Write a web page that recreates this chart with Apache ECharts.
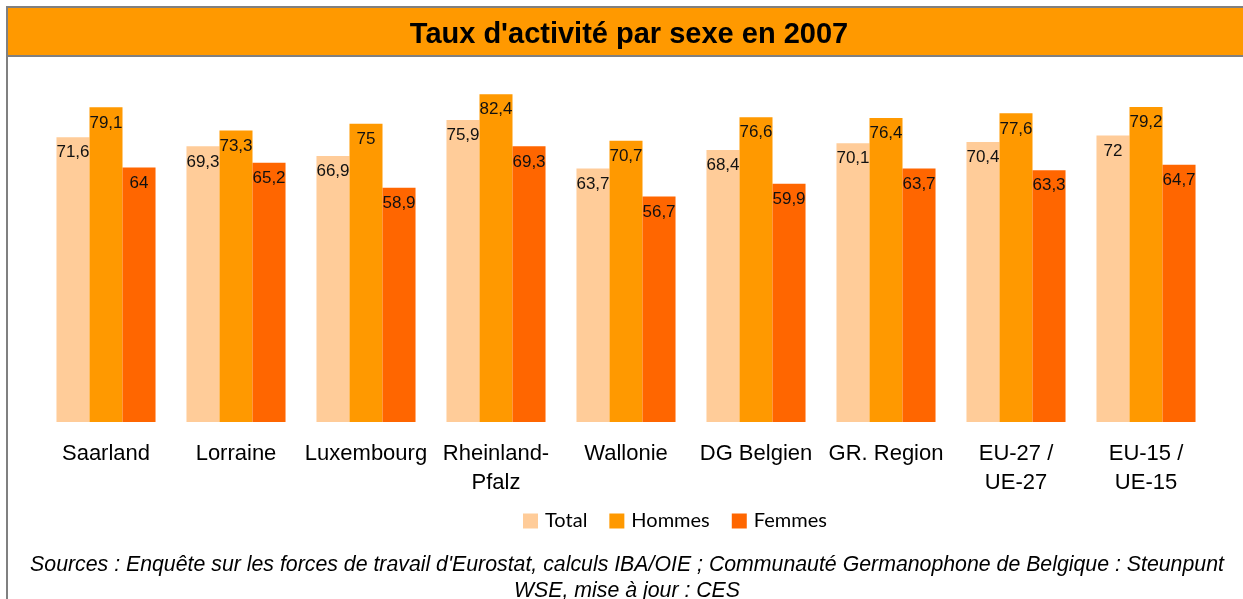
<!DOCTYPE html>
<html>
<head>
<meta charset="utf-8">
<script src="https://cdn.jsdelivr.net/npm/echarts@6/dist/echarts.min.js"></script>
<style>
  html, body { margin: 0; padding: 0; background: #fff; }
  #chart { width: 1243px; height: 599px; }
</style>
</head>
<body>
<div id="chart"></div>
<script>
// données
const regions = ['Saarland', 'Lorraine', 'Luxembourg', 'Rheinland-\nPfalz', 'Wallonie', 'DG Belgien', 'GR. Region', 'EU-27 /\nUE-27', 'EU-15 /\nUE-15']
const total = [71.6, 69.3, 66.9, 75.9, 63.7, 68.4, 70.1, 70.4, 72]
const hommes = [79.1, 73.3, 75, 82.4, 70.7, 76.6, 76.4, 77.6, 79.2]
const femmes = [64, 65.2, 58.9, 69.3, 56.7, 59.9, 63.7, 63.3, 64.7]
const seriesNames = ['Total', 'Hommes', 'Femmes']
const colors = ['#FFCC99', '#FF9900', '#FF6600']

const chart = echarts.init(document.getElementById('chart'))

// étiquette au format français
const labelFmt = (p) => String(p.value).replace('.', ',')

const makeSeries = (name, data, color) => ({
  name: name,
  type: 'bar',
  data: data,
  barGap: '0%',
  barCategoryGap: '23.8%',
  itemStyle: { color: color },
  label: {
    show: true,
    position: 'insideTop',
    distance: 7,
    formatter: labelFmt,
    color: '#111',
    fontFamily: 'Liberation Sans, Arial, sans-serif',
    fontSize: 17
  }
})

chart.setOption({
  animation: false,
  graphic: [
    { type: 'rect', shape: { x: 7, y: 7, width: 1250, height: 48 }, style: { fill: '#FF9900' } },
    { type: 'line', shape: { x1: 7, y1: 7, x2: 1243, y2: 7 }, style: { stroke: '#808080', lineWidth: 2 } },
    { type: 'line', shape: { x1: 7, y1: 56, x2: 1243, y2: 56 }, style: { stroke: '#808080', lineWidth: 2 } },
    { type: 'line', shape: { x1: 7, y1: 6, x2: 7, y2: 599 }, style: { stroke: '#808080', lineWidth: 2 } }
  ],
  title: [
    {
      text: "Taux d'activité par sexe en 2007",
      left: 624,
      top: 15,
      textAlign: 'center',
      textStyle: { fontFamily: 'Liberation Sans, Arial, sans-serif', fontSize: 29, fontWeight: 'bold', color: '#000' }
    },
    {
      text: "Sources : Enquête sur les forces de travail d'Eurostat, calculs IBA/OIE ; Communauté Germanophone de Belgique : Steunpunt\nWSE, mise à jour : CES",
      left: 622,
      top: 547,
      textAlign: 'center',
      textStyle: { fontFamily: 'Liberation Sans, Arial, sans-serif', fontSize: 21.3, fontStyle: 'italic', fontWeight: 'normal', color: '#000', lineHeight: 26 }
    }
  ],
  legend: {
    data: seriesNames,
    left: 523,
    top: 511,
    padding: 0,
    itemWidth: 15,
    itemHeight: 15,
    itemGap: 22,
    icon: 'rect',
    textStyle: { fontFamily: 'Lato, Open Sans, sans-serif', fontSize: 20, color: '#000', padding: [0, 0, 0, 2] }
  },
  grid: { left: 41, right: 32, top: 64, bottom: 177 },
  xAxis: {
    type: 'category',
    data: regions,
    axisLine: { show: false },
    axisTick: { show: false },
    axisLabel: {
      interval: 0,
      margin: 17,
      color: '#000',
      fontFamily: 'Liberation Sans, Arial, sans-serif',
      fontSize: 22,
      lineHeight: 29
    }
  },
  yAxis: {
    type: 'value',
    min: 0,
    max: 90,
    show: false,
    splitLine: { show: false }
  },
  series: [
    makeSeries(seriesNames[0], total, colors[0]),
    makeSeries(seriesNames[1], hommes, colors[1]),
    makeSeries(seriesNames[2], femmes, colors[2])
  ]
})
</script>
</body>
</html>
